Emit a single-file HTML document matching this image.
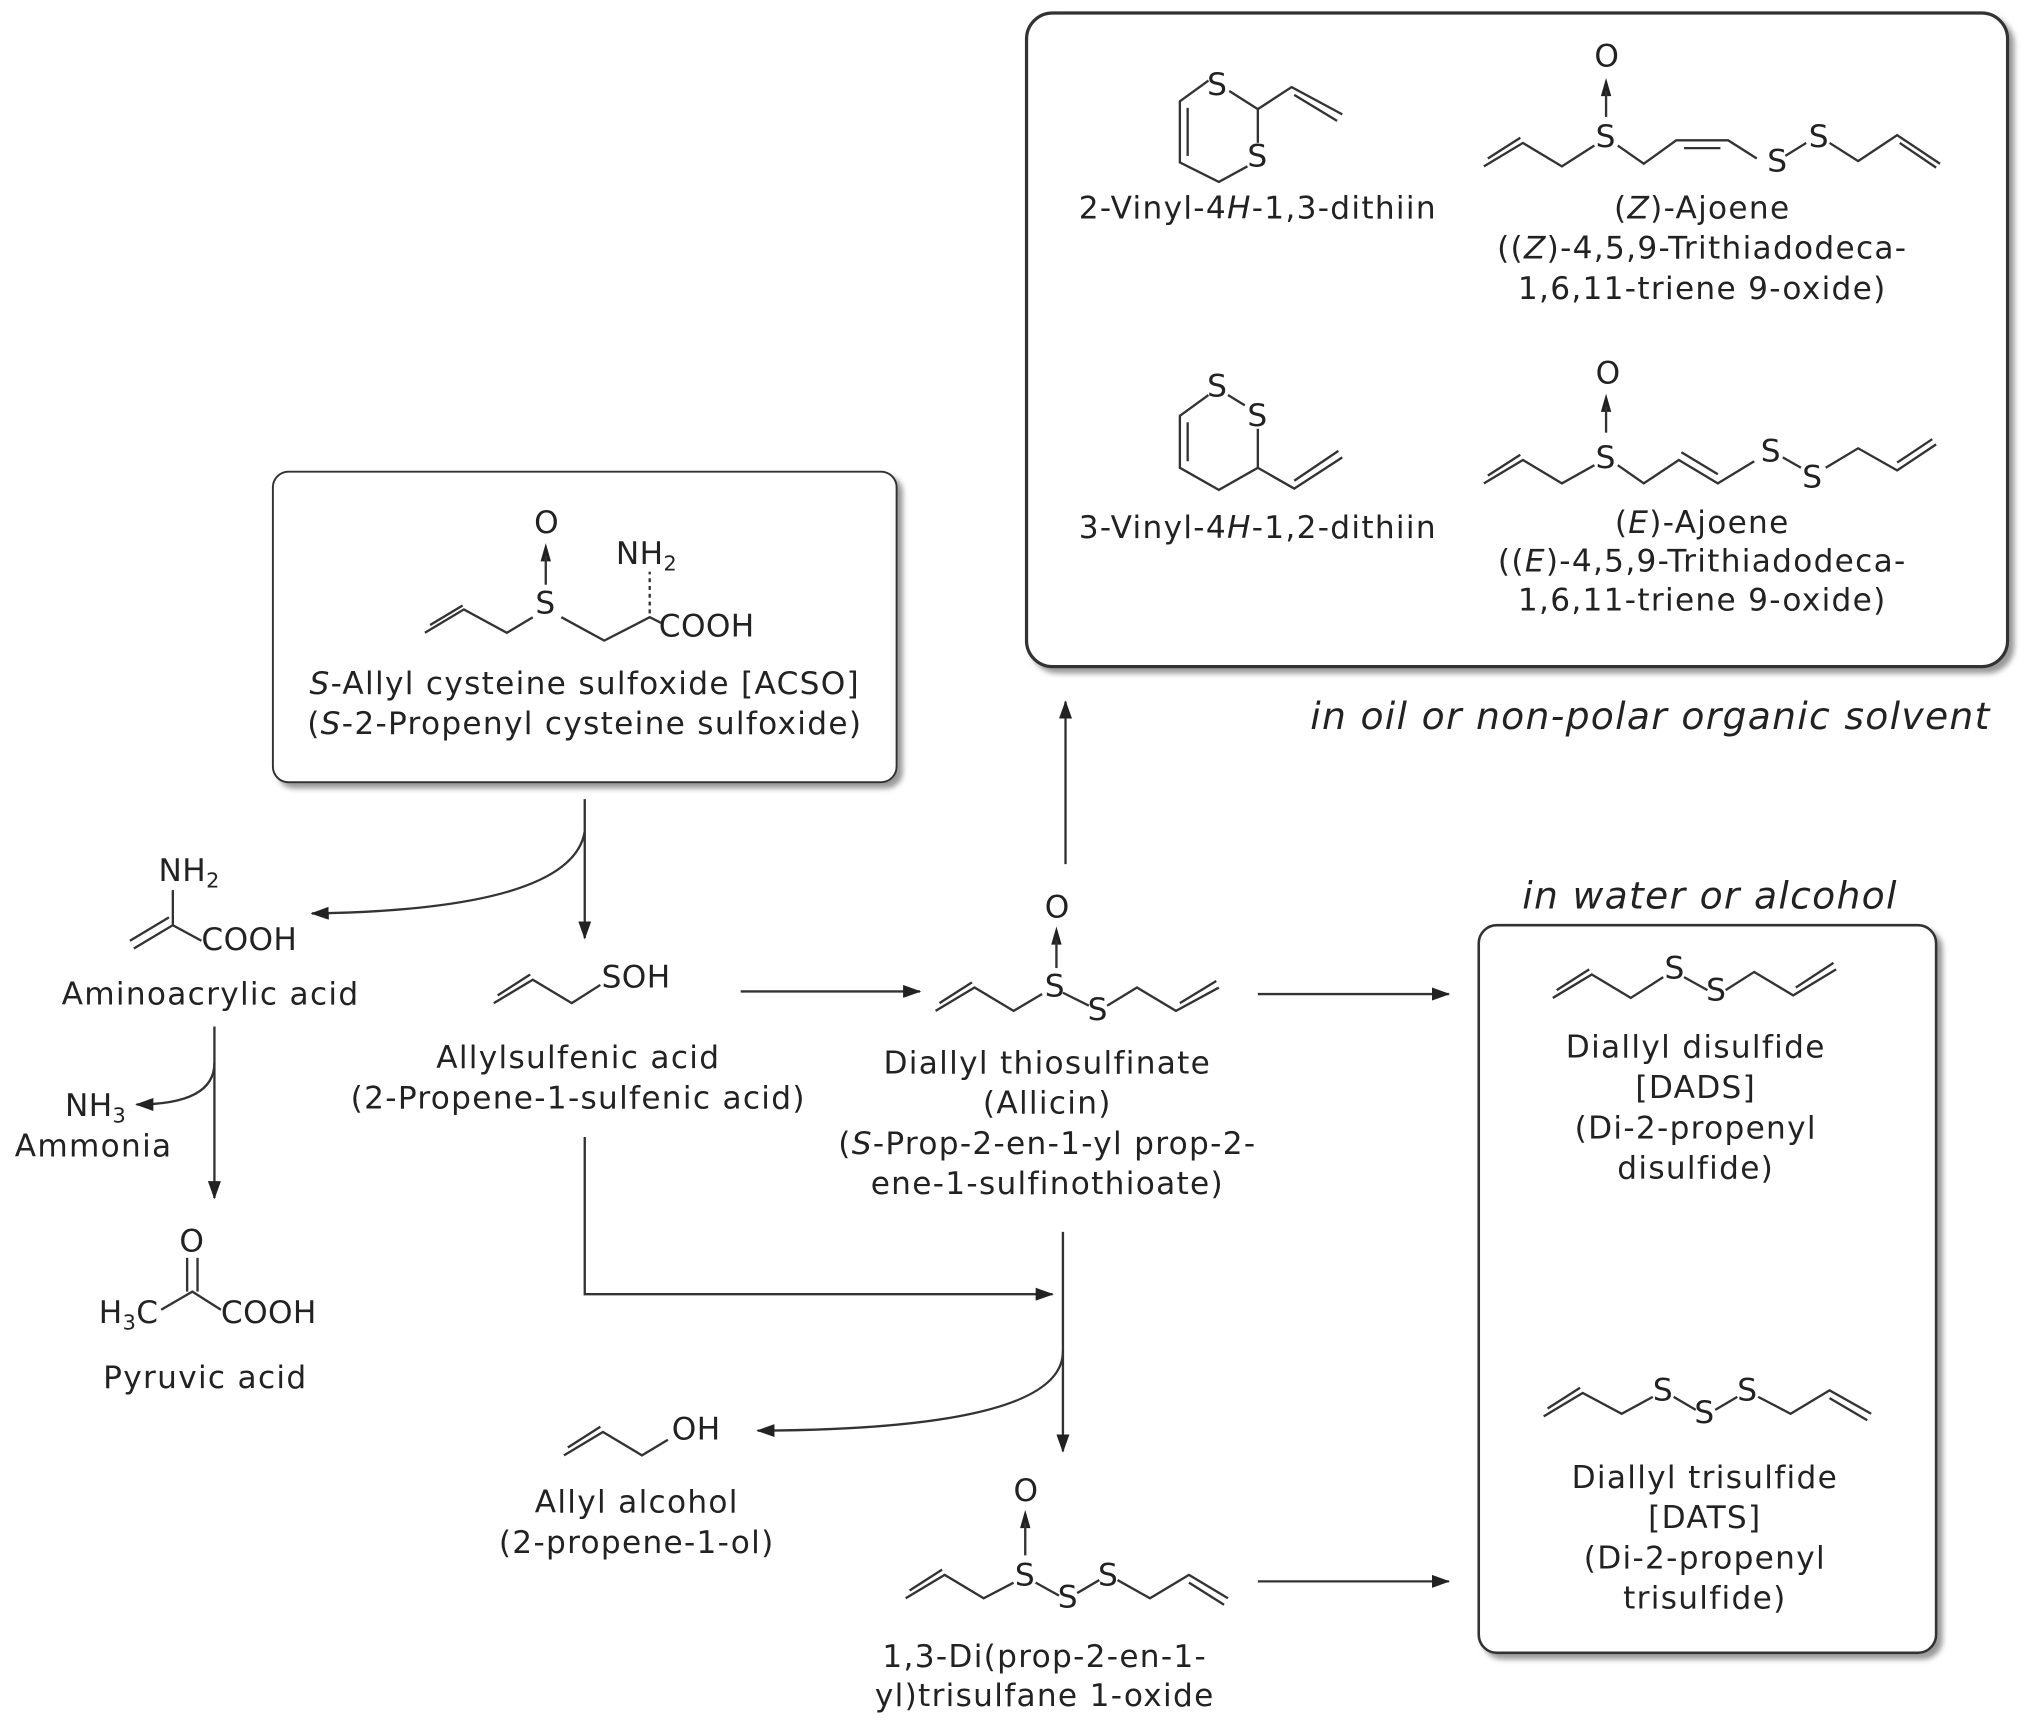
<!DOCTYPE html>
<html><head><meta charset="utf-8"><style>
html,body{margin:0;padding:0;background:#fff;}
svg{display:block}
text{font-family:"DejaVu Sans","Liberation Sans",sans-serif;font-size:24px;letter-spacing:1px;fill:#222;}
.m{text-anchor:middle}
.a text{font-size:24px;letter-spacing:0.3px}
.it{font-style:italic}
.big{font-size:29px;letter-spacing:1px}
</style></head><body>
<svg width="2031" height="1723" viewBox="0 0 1563 1326" xmlns="http://www.w3.org/2000/svg">
<defs>
<marker id="ar" markerWidth="14" markerHeight="10" refX="13" refY="5" orient="auto" markerUnits="userSpaceOnUse">
<path d="M0,0 L14,5 L0,10 Z" fill="#222"/></marker>
<filter id="sh" x="-5%" y="-5%" width="115%" height="115%"><feDropShadow dx="4" dy="4" stdDeviation="2" flood-color="#999"/></filter>
</defs>
<g fill="#fff" stroke="#333">
<rect x="210" y="363" width="480" height="239" rx="12" stroke-width="1.5" filter="url(#sh)"/>
<rect x="790" y="10" width="755" height="503" rx="20" stroke-width="2.5" filter="url(#sh)"/>
<rect x="1138" y="712" width="352" height="560" rx="14" stroke-width="2" filter="url(#sh)"/>
</g>
<g fill="#222">
<path d="M416,432 L420,418 L424,432 Z"/>
<path d="M809,727 L813,713 L817,727 Z"/>
<path d="M785,1176 L789,1162 L793,1176 Z"/>
<path d="M1232,74 L1236,60 L1240,74 Z"/>
<path d="M1232,317 L1236,303 L1240,317 Z"/>
</g>
<g stroke="#333" stroke-width="1.8" fill="none">
<polyline points="327,487 357,469 390,487 410,475"/><line x1="331" y1="481" x2="356" y2="466"/>
<polyline points="432,475 465,493 500,475 510,480"/>
<line x1="420" y1="450" x2="420" y2="428"/>
<line x1="500" y1="472" x2="500" y2="440" stroke-dasharray="3,3"/>
<polyline points="103,730 133,712 155,724"/><line x1="100" y1="724" x2="130" y2="706"/><line x1="133" y1="712" x2="133" y2="685"/>
<polyline points="124,1008 148,994 170,1008"/><line x1="144" y1="994" x2="144" y2="968"/><line x1="152" y1="994" x2="152" y2="968"/>
<polyline points="380,772 410,754 440,772 462,758"/><line x1="383" y1="766" x2="408" y2="750"/>
<polyline points="720,778 750,760 780,778 802,765"/><line x1="723" y1="772" x2="748" y2="756"/>
<line x1="818" y1="764" x2="838" y2="774"/><polyline points="852,774 875,760 905,778 938,760"/><line x1="908" y1="772" x2="936" y2="755"/>
<line x1="813" y1="745" x2="813" y2="723"/>
<polyline points="434,1120 464,1102 494,1120 514,1108"/><line x1="437" y1="1114" x2="462" y2="1098"/>
<polyline points="697,1230 727,1212 757,1230 780,1218"/><line x1="700" y1="1224" x2="725" y2="1208"/>
<line x1="789" y1="1197" x2="789" y2="1172"/>
<line x1="797" y1="1218" x2="815" y2="1228"/><line x1="829" y1="1226" x2="846" y2="1216"/>
<polyline points="860,1216 885,1230 915,1212 945,1230"/><line x1="915" y1="1218" x2="942" y2="1235"/>
<polyline points="1195,768 1225,750 1255,768 1280,752"/><line x1="1198" y1="762" x2="1223" y2="746"/>
<line x1="1296" y1="752" x2="1314" y2="762"/><polyline points="1328,762 1350,748 1380,766 1413,746"/><line x1="1382" y1="760" x2="1411" y2="741"/>
<polyline points="1188,1090 1218,1072 1248,1088 1272,1075"/><line x1="1191" y1="1084" x2="1216" y2="1068"/>
<line x1="1288" y1="1075" x2="1305" y2="1085"/><line x1="1320" y1="1085" x2="1337" y2="1075"/>
<polyline points="1353,1075 1378,1088 1408,1070 1440,1088"/><line x1="1408" y1="1076" x2="1437" y2="1093"/>
<polyline points="930,62 908,78 908,125 938,140 960,128"/><line x1="914" y1="83" x2="914" y2="120"/>
<polyline points="946,70 968,84 968,110"/><polyline points="968,84 994,67 1033,88"/><line x1="996" y1="73" x2="1029" y2="93"/>
<polyline points="930,304 908,320 908,360 938,377 968,360 968,330"/><line x1="914" y1="325" x2="914" y2="355"/>
<line x1="945" y1="304" x2="958" y2="312"/><polyline points="968,360 996,376 1033,352"/><line x1="996" y1="370" x2="1030" y2="347"/>
<polyline points="1142,128 1172,110 1202,128 1227,112"/><line x1="1145" y1="122" x2="1170" y2="106"/>
<line x1="1236" y1="90" x2="1236" y2="70"/>
<polyline points="1245,112 1265,126 1290,108 1330,108 1352,122"/><line x1="1296" y1="114" x2="1324" y2="114"/>
<line x1="1374" y1="120" x2="1390" y2="110"/><polyline points="1408,110 1430,124 1460,104 1493,126"/><line x1="1462" y1="110" x2="1490" y2="129"/>
<polyline points="1142,372 1172,354 1202,372 1227,358"/><line x1="1145" y1="366" x2="1170" y2="350"/>
<line x1="1236" y1="333" x2="1236" y2="313"/>
<polyline points="1245,358 1265,372 1292,354 1322,372 1350,355"/><line x1="1294" y1="348" x2="1322" y2="365"/>
<line x1="1372" y1="352" x2="1386" y2="360"/><polyline points="1405,360 1430,345 1460,362 1490,342"/><line x1="1460" y1="356" x2="1487" y2="338"/>
<line x1="450" y1="615" x2="450" y2="722" marker-end="url(#ar)"/>
<path d="M450,640 Q440,700 240,703" marker-end="url(#ar)"/>
<line x1="165" y1="790" x2="165" y2="922" marker-end="url(#ar)"/>
<path d="M165,818 Q165,850 105,850" marker-end="url(#ar)"/>
<line x1="570" y1="763" x2="708" y2="763" marker-end="url(#ar)"/>
<line x1="820" y1="665" x2="820" y2="540" marker-end="url(#ar)"/>
<line x1="968" y1="765" x2="1115" y2="765" marker-end="url(#ar)"/>
<polyline points="450,875 450,996 810,996" marker-end="url(#ar)"/>
<line x1="818" y1="948" x2="818" y2="1117" marker-end="url(#ar)"/>
<path d="M818,1040 Q818,1100 583,1101" marker-end="url(#ar)"/>
<line x1="968" y1="1217" x2="1115" y2="1217" marker-end="url(#ar)"/>
</g>
<g class="a">
<text x="411" y="410">O</text><text x="412" y="472">S</text>
<text x="474" y="434">NH<tspan font-size="16" dy="5">2</tspan></text><text x="507" y="490">COOH</text>
<text x="122" y="678">NH<tspan font-size="16" dy="5">2</tspan></text><text x="155" y="731">COOH</text>
<text x="50" y="859">NH<tspan font-size="16" dy="5">3</tspan></text>
<text x="138" y="963">O</text><text x="76" y="1018">H<tspan font-size="16" dy="5">3</tspan><tspan dy="-5">C</tspan></text><text x="170" y="1018">COOH</text>
<text x="463" y="760">SOH</text>
<text x="804" y="706">O</text><text x="804" y="767">S</text><text x="837" y="785">S</text>
<text x="517" y="1108">OH</text>
<text x="780" y="1155">O</text><text x="781" y="1220">S</text><text x="814" y="1237">S</text><text x="845" y="1220">S</text>
<text x="1281" y="753">S</text><text x="1313" y="770">S</text>
<text x="1272" y="1078">S</text><text x="1304" y="1095">S</text><text x="1337" y="1078">S</text>
<text x="929" y="73">S</text><text x="960" y="128">S</text>
<text x="929" y="305">S</text><text x="960" y="328">S</text>
<text x="1227" y="51">O</text><text x="1228" y="113">S</text><text x="1360" y="132">S</text><text x="1392" y="113">S</text>
<text x="1228" y="295">O</text><text x="1228" y="360">S</text><text x="1355" y="355">S</text><text x="1387" y="375">S</text>
</g>
<g class="m">
<text x="968" y="168">2-Vinyl-4<tspan class="it">H</tspan>-1,3-dithiin</text>
<text x="1310" y="168">(<tspan class="it">Z</tspan>)-Ajoene</text>
<text x="1310" y="199">((<tspan class="it">Z</tspan>)-4,5,9-Trithiadodeca-</text>
<text x="1310" y="230">1,6,11-triene 9-oxide)</text>
<text x="968" y="414">3-Vinyl-4<tspan class="it">H</tspan>-1,2-dithiin</text>
<text x="1310" y="410">(<tspan class="it">E</tspan>)-Ajoene</text>
<text x="1310" y="440">((<tspan class="it">E</tspan>)-4,5,9-Trithiadodeca-</text>
<text x="1310" y="470">1,6,11-triene 9-oxide)</text>
<text x="450" y="534"><tspan class="it">S</tspan>-Allyl cysteine sulfoxide [ACSO]</text>
<text x="450" y="565">(<tspan class="it">S</tspan>-2-Propenyl cysteine sulfoxide)</text>
<text x="162" y="773">Aminoacrylic acid</text>
<text x="72" y="890">Ammonia</text>
<text x="158" y="1068">Pyruvic acid</text>
<text x="445" y="822">Allylsulfenic acid</text>
<text x="445" y="853">(2-Propene-1-sulfenic acid)</text>
<text x="806" y="826">Diallyl thiosulfinate</text>
<text x="806" y="857">(Allicin)</text>
<text x="806" y="888">(<tspan class="it">S</tspan>-Prop-2-en-1-yl prop-2-</text>
<text x="806" y="919">ene-1-sulfinothioate)</text>
<text x="490" y="1164">Allyl alcohol</text>
<text x="490" y="1195">(2-propene-1-ol)</text>
<text x="804" y="1283">1,3-Di(prop-2-en-1-</text>
<text x="804" y="1313">yl)trisulfane 1-oxide</text>
<text x="1305" y="814">Diallyl disulfide</text>
<text x="1305" y="845">[DADS]</text>
<text x="1305" y="876">(Di-2-propenyl</text>
<text x="1305" y="907">disulfide)</text>
<text x="1312" y="1145">Diallyl trisulfide</text>
<text x="1312" y="1176">[DATS]</text>
<text x="1312" y="1207">(Di-2-propenyl</text>
<text x="1312" y="1238">trisulfide)</text>
<text x="1316" y="699" class="it big">in water or alcohol</text>
</g>
<text x="1532" y="561" class="it big" text-anchor="end">in oil or non-polar organic solvent</text>
</svg>
</body></html>
